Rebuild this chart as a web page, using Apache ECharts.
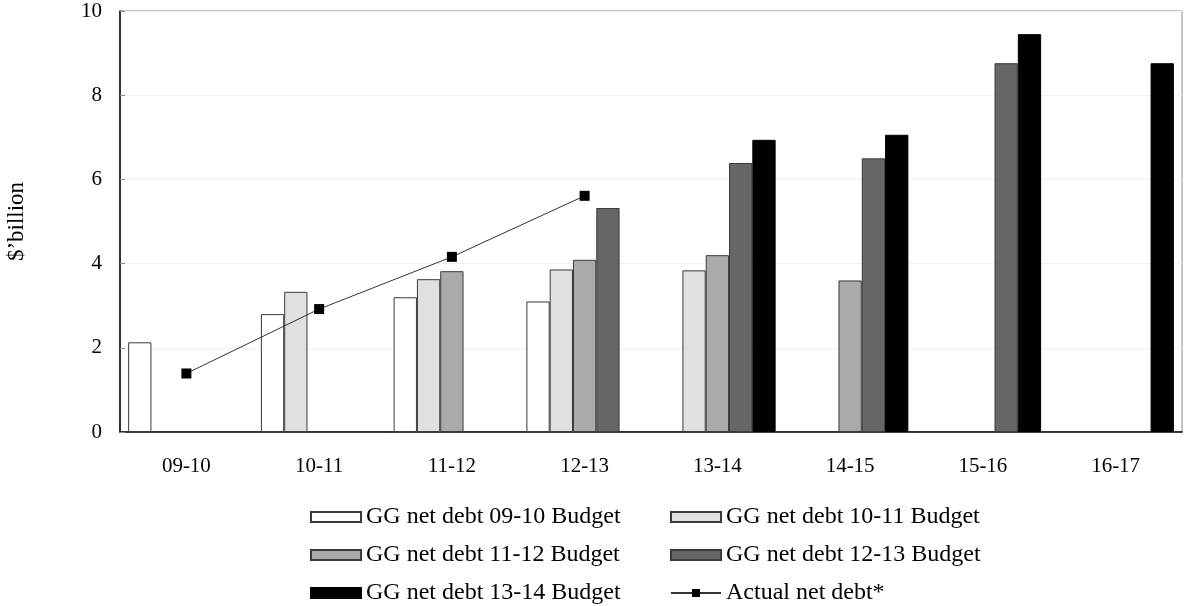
<!DOCTYPE html>
<html>
<head>
<meta charset="utf-8">
<script src="https://cdn.jsdelivr.net/npm/echarts@6/dist/echarts.min.js"></script>
<style>
  html, body { margin: 0; padding: 0; background: #fff; }
  #chart { width: 1184px; height: 606px; }
</style>
</head>
<body>
<div id="chart"></div>
<script>
// Financial years on the category axis
const years = ['09-10', '10-11', '11-12', '12-13', '13-14', '14-15', '15-16', '16-17'];

// General government net debt projections by budget ($ billion)
const budget0910 = [2.13, 2.80, 3.20, 3.10, null, null, null, null];
const budget1011 = [null, 3.33, 3.63, 3.86, 3.84, null, null, null];
const budget1112 = [null, null, 3.82, 4.09, 4.20, 3.60, null, null];
const budget1213 = [null, null, null, 5.32, 6.39, 6.50, 8.76, null];
const budget1314 = [null, null, null, null, 6.94, 7.06, 9.45, 8.76];

// Actual net debt outcome
const actualDebt = [1.39, 2.92, 4.16, 5.61, null, null, null, null];

const yTicks = [0, 2, 4, 6, 8, 10];

const names = [
  'GG net debt 09-10 Budget',
  'GG net debt 10-11 Budget',
  'GG net debt 11-12 Budget',
  'GG net debt 12-13 Budget',
  'GG net debt 13-14 Budget',
  'Actual net debt*'
];

const FONT = 'Liberation Serif';
const fills = ['#ffffff', '#e0e0e0', '#aaaaaa', '#666666', '#000000'];
const barData = [budget0910, budget1011, budget1112, budget1213, budget1314];

const barSeries = barData.map((d, i) => ({
  name: names[i],
  type: 'bar',
  data: d,
  barWidth: 23.3,
  barGap: '0%',
  itemStyle: { color: fills[i], borderColor: i === 4 ? '#000' : '#3a3a3a', borderWidth: 1 },
  emphasis: { disabled: true }
}));

function legendColumn(left, items) {
  return {
    orient: 'vertical', left: left, top: 505, padding: 0, itemGap: 14,
    itemWidth: 50, itemHeight: 10,
    textStyle: { fontFamily: FONT, fontSize: 24, color: '#000' },
    data: items.map(n => n.startsWith('Actual') ? { name: n } : { name: n, icon: 'rect' })
  };
}

const chart = echarts.init(document.getElementById('chart'), null, { renderer: 'canvas' });
chart.setOption({
  animation: false,
  backgroundColor: '#fff',
  textStyle: { fontFamily: FONT, color: '#000' },
  grid: {
    left: 120, right: 2, top: 11, bottom: 174,
    outerBoundsMode: 'none',
    containLabel: false,
    show: true, borderColor: '#8a8a8a', borderWidth: 1, backgroundColor: 'transparent'
  },
  legend: [
    legendColumn(310, [names[0], names[2], names[4]]),
    legendColumn(670, [names[1], names[3], names[5]])
  ],
  xAxis: {
    type: 'category',
    data: years,
    axisLine: { lineStyle: { color: '#000', width: 1.5 } },
    axisTick: { inside: true, length: 5, lineStyle: { color: '#888' } },
    axisLabel: { fontFamily: FONT, fontSize: 21, color: '#000', margin: 24 },
    splitLine: { show: false }
  },
  yAxis: {
    type: 'value',
    min: yTicks[0], max: yTicks[yTicks.length - 1], interval: 2,
    name: '$\u2019billion',
    nameLocation: 'middle',
    nameRotate: 90,
    nameGap: 92,
    nameTextStyle: { fontFamily: FONT, fontSize: 23, color: '#000' },
    axisLine: { show: true, lineStyle: { color: '#000', width: 1.5 } },
    axisTick: { show: true, inside: true, length: 5, lineStyle: { color: '#888' } },
    axisLabel: { fontFamily: FONT, fontSize: 21, color: '#000', margin: 18 },
    splitLine: { show: true, lineStyle: { color: '#f0f0f0', width: 1 } }
  },
  series: barSeries.concat([{
    name: names[5],
    type: 'line',
    data: actualDebt,
    symbol: 'rect',
    symbolSize: 10,
    showSymbol: true,
    connectNulls: false,
    lineStyle: { color: '#333', width: 1 },
    itemStyle: { color: '#000' },
    emphasis: { disabled: true },
    z: 5
  }])
});
</script>
</body>
</html>
